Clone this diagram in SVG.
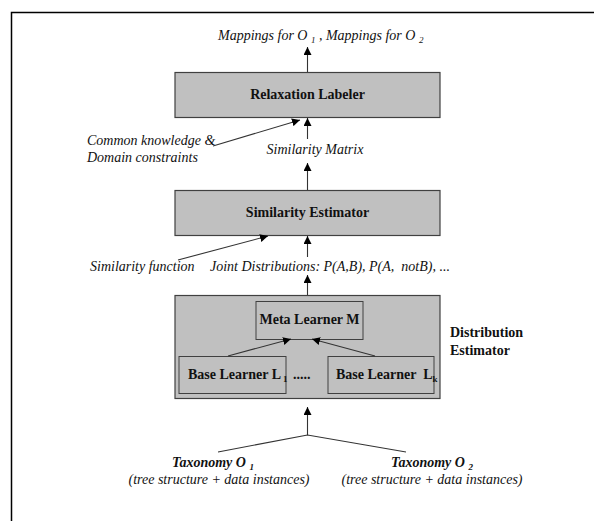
<svg xmlns="http://www.w3.org/2000/svg" width="594" height="521" viewBox="0 0 594 521">
  <defs>
    <marker id="head" viewBox="0 0 10 10" refX="10" refY="5" markerWidth="8" markerHeight="8" markerUnits="userSpaceOnUse" orient="auto">
      <path d="M0,0 L10,5 L0,10 z" fill="#000"/>
    </marker>
    <style>
      .frame { fill: none; stroke: #000; stroke-width: 1.5; }
      .box { fill: #c0c0c0; stroke: #404040; stroke-width: 1.2; }
      .inner { fill: #c0c0c0; stroke: #404040; stroke-width: 1; }
      .wire { fill: none; stroke: #333; stroke-width: 1.1; }
      .arrow { fill: none; stroke: #333; stroke-width: 1.1; marker-end: url(#head); }
      .lbl { font-family: "Liberation Serif", "Times New Roman", serif; font-size: 14px; font-weight: bold; fill: #111; }
      .it { font-family: "Liberation Serif", "Times New Roman", serif; font-size: 14px; font-style: italic; fill: #111; }
      .bi { font-family: "Liberation Serif", "Times New Roman", serif; font-size: 14px; font-style: italic; font-weight: bold; fill: #111; }
      .sub { font-size: 9px; }
    </style>
  </defs>

  <!-- page frame (top and left edges) -->
  <path class="frame" d="M11.5,521 L11.5,12.5 L594,12.5"/>

  <g id="output-label">
    <text class="it" x="218" y="40">Mappings for O <tspan class="sub" dy="3">1</tspan><tspan dy="-3"> , Mappings for O </tspan><tspan class="sub" dy="3">2</tspan></text>
  </g>

  <g id="relaxation-labeler">
    <rect class="box" x="175" y="72.5" width="265" height="45"/>
    <text class="lbl" x="307.5" y="99" text-anchor="middle">Relaxation Labeler</text>
  </g>

  <g id="constraints-label">
    <text class="it" x="87" y="145">Common knowledge &amp;</text>
    <text class="it" x="87" y="162">Domain constraints</text>
  </g>

  <g id="similarity-matrix-label">
    <text class="it" x="315" y="154" text-anchor="middle">Similarity Matrix</text>
  </g>

  <g id="similarity-estimator">
    <rect class="box" x="175" y="190.5" width="265" height="45"/>
    <text class="lbl" x="307.5" y="217" text-anchor="middle">Similarity Estimator</text>
  </g>

  <g id="similarity-function-label">
    <text class="it" x="90" y="271">Similarity function</text>
  </g>

  <g id="joint-distributions-label">
    <text class="it" x="210" y="271">Joint Distributions: P(A,B), P(A, &#160;notB), ...</text>
  </g>

  <g id="distribution-estimator">
    <rect class="box" x="175" y="295.5" width="265" height="103"/>
    <text class="lbl" x="450" y="337">Distribution</text>
    <text class="lbl" x="450" y="355">Estimator</text>
  </g>

  <g id="meta-learner">
    <rect class="inner" x="256" y="301.5" width="107" height="38"/>
    <text class="lbl" x="309.5" y="324" text-anchor="middle">Meta Learner M</text>
  </g>

  <g id="base-learner-1">
    <rect class="inner" x="179" y="356.5" width="107" height="37"/>
    <text class="lbl" x="188" y="379">Base Learner L<tspan class="sub" dx="2" dy="3">1</tspan></text>
  </g>

  <g id="ellipsis">
    <text class="lbl" x="293" y="379">.....</text>
  </g>

  <g id="base-learner-k">
    <rect class="inner" x="328" y="356.5" width="106" height="37"/>
    <text class="lbl" x="336" y="379">Base Learner &#160;L<tspan class="sub" dy="3">k</tspan></text>
  </g>

  <g id="taxonomy-1">
    <text class="bi" x="213" y="467" text-anchor="middle">Taxonomy O <tspan class="sub" dy="3">1</tspan></text>
    <text class="it" x="219" y="484" text-anchor="middle">(tree structure + data instances)</text>
  </g>

  <g id="taxonomy-2">
    <text class="bi" x="432" y="467" text-anchor="middle">Taxonomy O <tspan class="sub" dy="3">2</tspan></text>
    <text class="it" x="432" y="484" text-anchor="middle">(tree structure + data instances)</text>
  </g>

  <g id="connectors">
    <line class="arrow" x1="307.5" y1="72" x2="307.5" y2="47"/>
    <line class="arrow" x1="307.5" y1="139" x2="307.5" y2="118"/>
    <line class="arrow" x1="213" y1="146" x2="300" y2="120"/>
    <line class="arrow" x1="307.5" y1="190" x2="307.5" y2="163"/>
    <line class="arrow" x1="307.5" y1="257" x2="307.5" y2="236"/>
    <line class="arrow" x1="178" y1="260" x2="268" y2="236"/>
    <line class="arrow" x1="307.5" y1="295" x2="307.5" y2="275"/>
    <line class="arrow" x1="228" y1="356" x2="291" y2="339"/>
    <line class="arrow" x1="375" y1="356" x2="312" y2="339"/>
    <line class="arrow" x1="307.5" y1="435" x2="307.5" y2="407"/>
    <path class="wire" d="M218,452 L307.5,435 L406,452"/>
  </g>
</svg>
